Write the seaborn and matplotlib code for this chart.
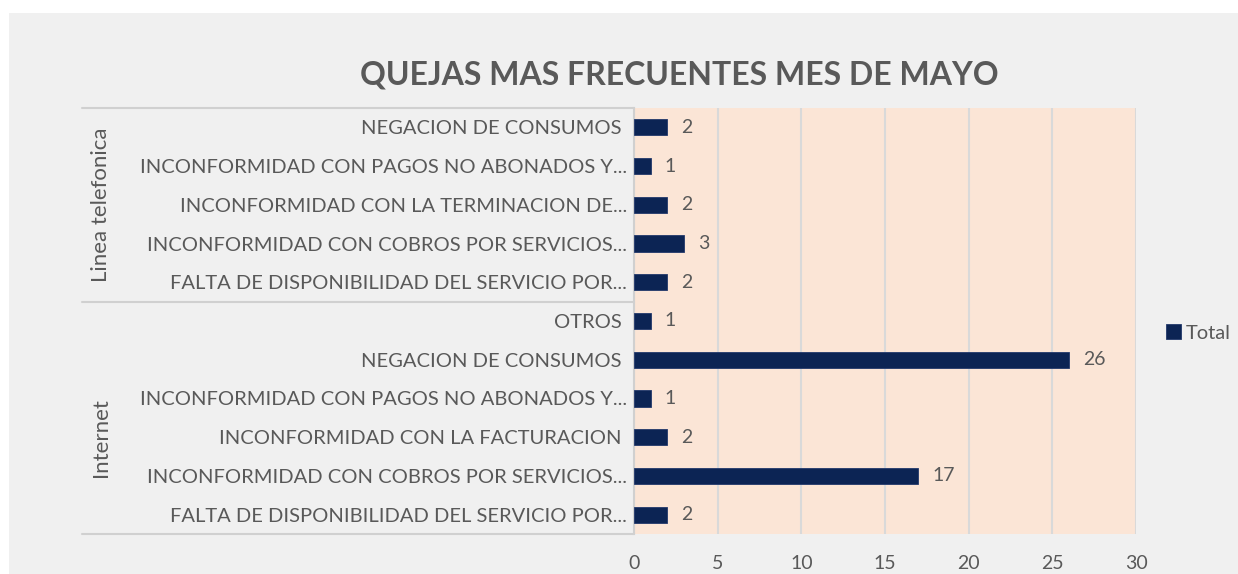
import pandas as pd
import matplotlib.pyplot as plt
import matplotlib.transforms as mtransforms
from matplotlib.patches import Rectangle
from matplotlib.lines import Line2D
import seaborn as sns

# data, top to bottom as shown in the chart
groups = ['Linea telefonica'] * 5 + ['Internet'] * 6
categories = [
    'NEGACION DE CONSUMOS ',
    'INCONFORMIDAD CON PAGOS NO ABONADOS Y...',
    'INCONFORMIDAD CON LA TERMINACION DE...',
    'INCONFORMIDAD CON COBROS POR SERVICIOS...',
    'FALTA DE DISPONIBILIDAD DEL SERVICIO POR...',
    'OTROS ',
    'NEGACION DE CONSUMOS ',
    'INCONFORMIDAD CON PAGOS NO ABONADOS Y...',
    'INCONFORMIDAD CON LA FACTURACION ',
    'INCONFORMIDAD CON COBROS POR SERVICIOS...',
    'FALTA DE DISPONIBILIDAD DEL SERVICIO POR...',
]
totals = [2, 1, 2, 3, 2, 1, 26, 1, 2, 17, 2]
x_ticks = [0, 5, 10, 15, 20, 25, 30]

df = pd.DataFrame({'group': groups, 'category': categories, 'Total': totals})
df['key'] = df['group'] + '|' + df['category']

sns.set_style('white')
plt.rcParams['font.family'] = ['Lato', 'DejaVu Sans']
text_color = '#595959'

W, H = 1238, 574
fig = plt.figure(figsize=(W / 100, H / 100), dpi=100)
fig.patch.set_facecolor('white')
fig.add_artist(Rectangle((9 / W, 0), 1 - 9 / W, 1 - 13 / H, transform=fig.transFigure,
                         facecolor='#f0f0f0', edgecolor='none', zorder=-10))

ax = fig.add_axes([634 / W, 1 - 534 / H, (1136 - 634) / W, (534 - 108) / H])
ax.set_facecolor('#fbe5d6')

sns.barplot(data=df, y='key', x='Total', order=list(df['key']), color='#002060',
            width=0.42, label='Total', edgecolor='#22386b', linewidth=0.6, ax=ax, zorder=3)

ax.bar_label(ax.containers[0], padding=10, fontsize=14, color=text_color)

ax.set_xlim(0, 30)
ax.set_xticks(x_ticks)
ax.set_yticks(range(len(categories)))
ax.set_yticklabels(categories)
ax.tick_params(axis='y', length=0, pad=5, labelsize=14.5, labelcolor=text_color)
ax.tick_params(axis='x', length=0, pad=15, labelsize=14, labelcolor=text_color)
ax.xaxis.grid(True, color='#d9d9d9', linewidth=1.5, zorder=0)
ax.set_axisbelow(True)
ax.set_xlabel('')
ax.set_ylabel('')
for s in ['top', 'right', 'bottom']:
    ax.spines[s].set_visible(False)
ax.spines['left'].set_color('#d0d0d0')
ax.spines['left'].set_linewidth(1.5)

# multi-level category axis lines and group labels
trans = mtransforms.blended_transform_factory(fig.transFigure, ax.transData)
for yv in [-0.5, 4.5, 10.5]:
    fig.add_artist(Line2D([82 / W, 634 / W], [yv, yv], transform=trans,
                          color='#d0d0d0', linewidth=1.5))
ax.text(101 / W, 2, 'Linea telefonica', transform=trans, rotation=90, ha='center',
        va='center', fontsize=16, color=text_color)
ax.text(101 / W, 8, 'Internet', transform=trans, rotation=90, ha='center',
        va='center', fontsize=16, color=text_color)

fig.text(679 / W, 1 - 75 / H, 'QUEJAS MAS FRECUENTES MES DE MAYO', ha='center', va='center',
         fontsize=23, fontweight='bold', color=text_color)

leg = ax.legend(loc='center left', bbox_to_anchor=(1148 / W, 1 - 333 / H),
                bbox_transform=fig.transFigure, frameon=False, handlelength=0.75,
                handleheight=0.75, handletextpad=0.2, fontsize=14.5)
for t in leg.get_texts():
    t.set_color(text_color)

fig.savefig('out.png', dpi=100)
